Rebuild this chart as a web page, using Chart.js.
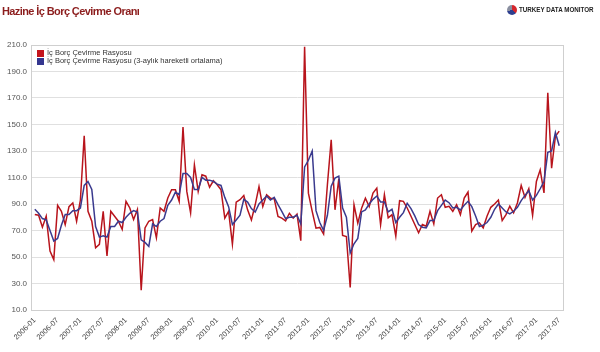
<!DOCTYPE html>
<html>
<head>
<meta charset="utf-8">
<script src="https://cdn.jsdelivr.net/npm/chart.js@4.4.1/dist/chart.umd.min.js"></script>
<style>
  body { margin: 0; background: #fff; font-family: "Liberation Sans", Arial, sans-serif; }
  #wrap { position: relative; width: 600px; height: 352px; overflow: hidden; }
  #chart { position: absolute; left: 0; top: 0; }
  .title { position: absolute; left: 2px; top: 5px; font-size: 11px; letter-spacing: -0.6px; font-weight: bold; color: #8c1d1d; }
  .logo { position: absolute; left: 507px; top: 4px; height: 11px; display: flex; align-items: center; }
  .logo i { width: 10px; height: 10px; border-radius: 50%; display: inline-block;
            background: conic-gradient(#d4262c 0 35%, #2d3f8f 35% 70%, #8a8fa0 70% 100%); margin-right: 2px; }
  .logo span { font-size: 8px; font-weight: bold; color: #222; display: inline-block; transform: scaleX(0.78); transform-origin: left center; white-space: nowrap; }
  .legend { position: absolute; left: 37px; top: 49px; font-size: 7.5px; color: #333; line-height: 8px; }
  .legend div { display: flex; align-items: center; height: 8px; }
  .legend b { width: 7px; height: 7px; display: inline-block; margin-right: 3px; }
</style>
</head>
<body>
<div id="wrap">
  <canvas id="chart" width="600" height="352"></canvas>
  <div class="title">Hazine İç Borç Çevirme Oranı</div>
  <div class="logo"><i></i><span>TURKEY DATA MONITOR</span></div>
  <div class="legend">
    <div><b style="background:#c4141c"></b>İç Borç Çevirme Rasyosu</div>
    <div><b style="background:#34368f"></b>İç Borç Çevirme Rasyosu (3-aylık hareketli ortalama)</div>
  </div>
</div>
<script>
// months 2006-01 .. 2017-07
const categories = [];
for (let y = 2006; y <= 2017; y++) {
  for (let m = 1; m <= 12; m++) {
    if (y === 2017 && m > 7) break;
    categories.push(y + '-' + (m < 10 ? '0' + m : m));
  }
}

const tickLabels = ['2006-01','2006-07','2007-01','2007-07','2008-01','2008-07','2009-01','2009-07',
  '2010-01','2010-07','2011-01','2011-07','2012-01','2012-07','2013-01','2013-07','2014-01','2014-07',
  '2015-01','2015-07','2016-01','2016-07','2017-01','2017-07'];

const ratio = [
  82, 81.5, 72.5, 80.8, 54.5, 48, 89, 84.5, 74.5, 88, 90.8, 77,
  93, 141.5, 84.5, 77, 57, 59.5, 84.5, 50.8, 84.5, 80.8, 77, 70.8,
  92, 87, 78.3, 85.8, 25, 72, 77, 78.3, 64.5, 87, 84.5, 94.5,
  100.8, 100.8, 92, 148, 99.5, 83.3, 119.5, 99.5, 112, 111, 102.7, 107.5,
  104.5, 100.7, 79.3, 84.4, 59.7, 91.4, 93.2, 96.4, 85.6, 78, 89.4, 103.2,
  88.1, 97, 94.4, 94, 80.6, 79.3, 77.3, 83, 79.3, 82.4, 62.3, 208.7,
  98.2, 84.4, 71.8, 72.3, 67.3, 104.5, 138.4, 85.6, 109, 66.3, 65.5, 27,
  89.4, 75.6, 86.9, 94.4, 88.1, 98.2, 102, 74.3, 97, 79.5, 82, 65.8,
  92.5, 92, 87, 80.8, 74.5, 68.3, 74.5, 73.3, 84.5, 75, 94.5, 97,
  87.5, 88.3, 84.5, 89.5, 82, 94.5, 99, 69.5, 74.5, 75.8, 72, 80.8,
  87.5, 90, 93, 77.5, 82, 88.3, 83.3, 90.8, 104, 95, 101.5, 81.5,
  107, 115.8, 98.3, 174, 117, 141, 145
];

const ratioAvg = [
  86, 83, 79, 78, 70, 62, 64, 74, 82, 82, 85, 85,
  87, 104, 107, 101, 73, 65, 66, 65, 73, 73, 77, 76,
  80, 83, 85, 84, 63, 61, 58, 75, 73, 77, 79, 89,
  93, 99, 97, 113, 113, 110, 101, 101, 110, 108, 108, 107,
  105, 104, 95, 88, 74.5, 78, 81.5, 93.5, 91.5, 86.5, 84, 90,
  93, 96, 93, 95, 89.5, 84.5, 79, 80, 80, 81.5, 75, 118,
  123, 130, 85, 76, 70, 81.5, 103.5, 109.5, 111, 87, 80, 53,
  60, 64, 84, 85.5, 90, 93.5, 96, 91.5, 91.5, 84, 86, 76,
  80, 83.5, 90.5, 86.5, 81, 74.5, 72.5, 72, 77.5, 77.5, 85, 89,
  93, 91, 87, 87.5, 85.5, 89, 92, 88, 81, 73, 74, 76,
  80, 86, 90, 87, 84, 82.5, 84.5, 87.5, 92.5, 96.5, 100, 93,
  96.5, 101.5, 107, 129, 130, 144, 134
];

const yTicks = [10, 30, 50, 70, 90, 110, 130, 150, 170, 190, 210];

Chart.defaults.font.family = '"Liberation Sans", Arial, sans-serif';

const boxPlugin = {
  id: 'box',
  afterDraw(chart) {
    const a = chart.chartArea, ctx = chart.ctx;
    ctx.save();
    ctx.strokeStyle = '#cfcfcf';
    ctx.lineWidth = 1;
    ctx.strokeRect(Math.round(a.left) + 0.5, Math.round(a.top) + 0.5, Math.round(a.right - a.left), Math.round(a.bottom - a.top));
    ctx.restore();
  }
};

const ctx = document.getElementById('chart').getContext('2d');
new Chart(ctx, {
  type: 'line',
  data: {
    datasets: [
      {
        label: 'İç Borç Çevirme Rasyosu',
        data: ratio.map((v, i) => ({ x: i, y: v })),
        borderColor: '#b8141c',
        borderWidth: 1.5,
        pointRadius: 0,
        tension: 0,
        order: 1
      },
      {
        label: 'İç Borç Çevirme Rasyosu (3-aylık hareketli ortalama)',
        data: ratioAvg.map((v, i) => ({ x: i, y: v })),
        borderColor: '#3a3a8e',
        borderWidth: 1.5,
        pointRadius: 0,
        tension: 0,
        order: 0
      }
    ]
  },
  options: {
    responsive: false,
    animation: false,
    layout: { padding: { top: 45, right: 37, left: 0, bottom: 0 } },
    plugins: { legend: { display: false }, tooltip: { enabled: false } },
    scales: {
      x: {
        type: 'linear',
        min: -1,
        max: categories.length,
        afterBuildTicks: s => { s.ticks = tickLabels.map(l => ({ value: categories.indexOf(l) })); },
        afterFit: s => { s.height = 42; },
        grid: { display: false },
        border: { color: '#cfcfcf' },
        ticks: {
          autoSkip: false,
          maxRotation: 45,
          minRotation: 45,
          padding: -2,
          color: '#444',
          font: { size: 7.5 },
          callback: v => categories[v]
        }
      },
      y: {
        min: 10,
        max: 210,
        afterBuildTicks: s => { s.ticks = yTicks.map(v => ({ value: v })); },
        afterFit: s => { s.width = 31; },
        grid: { color: '#e0e0e0', drawTicks: false },
        border: { color: '#cfcfcf' },
        ticks: {
          padding: 4,
          color: '#555',
          font: { size: 8 },
          callback: v => v.toFixed(1)
        }
      }
    }
  },
  plugins: [boxPlugin]
});
</script>
</body>
</html>
